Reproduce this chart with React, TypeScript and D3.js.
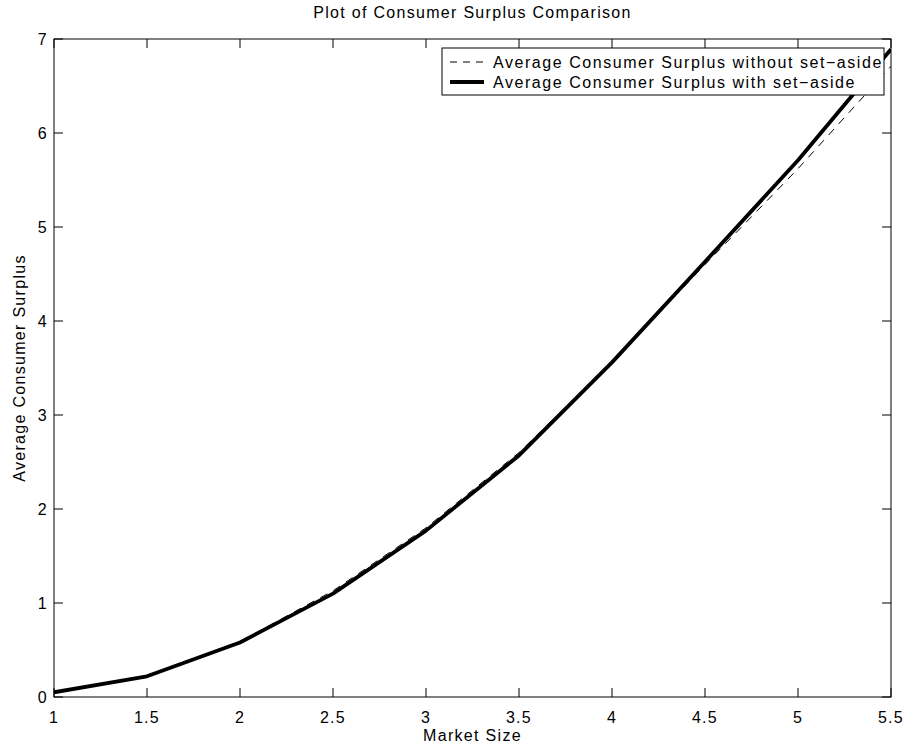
import * as d3 from "d3"

const marketSize = [1, 1.5, 2, 2.5, 3, 3.5, 4, 4.5, 5, 5.5]
const withoutSetAside = [0.05, 0.23, 0.59, 1.13, 1.8, 2.6, 3.56, 4.6, 5.62, 6.71]
const withSetAside = [0.05, 0.22, 0.58, 1.1, 1.77, 2.57, 3.56, 4.63, 5.71, 6.89]
const xTicks = [1, 1.5, 2, 2.5, 3, 3.5, 4, 4.5, 5, 5.5]
const yTicks = [0, 1, 2, 3, 4, 5, 6, 7]
const legendLabels = [
  "Average Consumer Surplus without set\u2212aside",
  "Average Consumer Surplus with set\u2212aside",
]

const W = 906
const H = 752
const margin = { top: 39, right: 15, bottom: 55, left: 54 }
const font = "'Liberation Sans', Arial, Helvetica, sans-serif"
const ls = "1.3px"

export default function App() {
  const x = d3.scaleLinear().domain([1, 5.5]).range([margin.left, W - margin.right])
  const y = d3.scaleLinear().domain([0, 7]).range([H - margin.bottom, margin.top])
  const line = d3
    .line<number>()
    .x((_, i) => x(marketSize[i]))
    .y((d) => y(d))

  const x0 = x.range()[0]
  const x1 = x.range()[1]
  const y0 = y.range()[0]
  const y1 = y.range()[1]
  const tick = 9

  const lg = { x: 442, y: 48, w: 442, h: 47 }

  return (
    <svg width={W} height={H} style={{ position: "absolute", left: 0, top: 0, background: "#fff" }} fontFamily={font}>
      <rect width={W} height={H} fill="#fff" />
      <defs>
        <clipPath id="plot">
          <rect x={x0} y={y1} width={x1 - x0} height={y0 - y1} />
        </clipPath>
      </defs>
      <g clipPath="url(#plot)" fill="none" stroke="#000" strokeLinejoin="round">
        <path d={line(withoutSetAside) || ""} strokeWidth={1} strokeDasharray="8,7" />
        <path d={line(withSetAside) || ""} strokeWidth={3.8} />
      </g>
      <g stroke="#000" strokeWidth={1}>
        <rect x={x0} y={y1} width={x1 - x0} height={y0 - y1} fill="none" />
        {xTicks.map((t) => (
          <g key={"x" + t}>
            <line x1={x(t)} x2={x(t)} y1={y0} y2={y0 - tick} />
            <line x1={x(t)} x2={x(t)} y1={y1} y2={y1 + tick} />
          </g>
        ))}
        {yTicks.map((t) => (
          <g key={"y" + t}>
            <line x1={x0} x2={x0 + tick} y1={y(t)} y2={y(t)} />
            <line x1={x1} x2={x1 - tick} y1={y(t)} y2={y(t)} />
          </g>
        ))}
      </g>
      <g fontSize={16} fill="#000" style={{ letterSpacing: ls }}>
        {xTicks.map((t) => (
          <text key={"xl" + t} x={x(t)} y={y0 + 26} textAnchor="middle">
            {t}
          </text>
        ))}
        {yTicks.map((t) => (
          <text key={"yl" + t} x={x0 - 6} y={y(t) + 6} textAnchor="end">
            {t}
          </text>
        ))}
        <text x={(x0 + x1) / 2} y={741} textAnchor="middle">
          Market Size
        </text>
        <text transform={`translate(25,${(y0 + y1) / 2}) rotate(-90)`} textAnchor="middle">
          Average Consumer Surplus
        </text>
        <text x={(x0 + x1) / 2} y={18} textAnchor="middle">
          Plot of Consumer Surplus Comparison
        </text>
      </g>
      <g>
        <rect x={lg.x} y={lg.y} width={lg.w} height={lg.h} fill="#fff" stroke="#000" strokeWidth={1} />
        <line x1={lg.x + 8} x2={lg.x + 42} y1={lg.y + 14} y2={lg.y + 14} stroke="#000" strokeWidth={1} strokeDasharray="7,6" />
        <line x1={lg.x + 8} x2={lg.x + 42} y1={lg.y + 34} y2={lg.y + 34} stroke="#000" strokeWidth={3.8} />
        {legendLabels.map((l, i) => (
          <text key={l} x={lg.x + 51} y={lg.y + 20 + i * 20} fontSize={16} fill="#000" style={{ letterSpacing: "1.55px" }}>
            {l}
          </text>
        ))}
      </g>
    </svg>
  )
}
